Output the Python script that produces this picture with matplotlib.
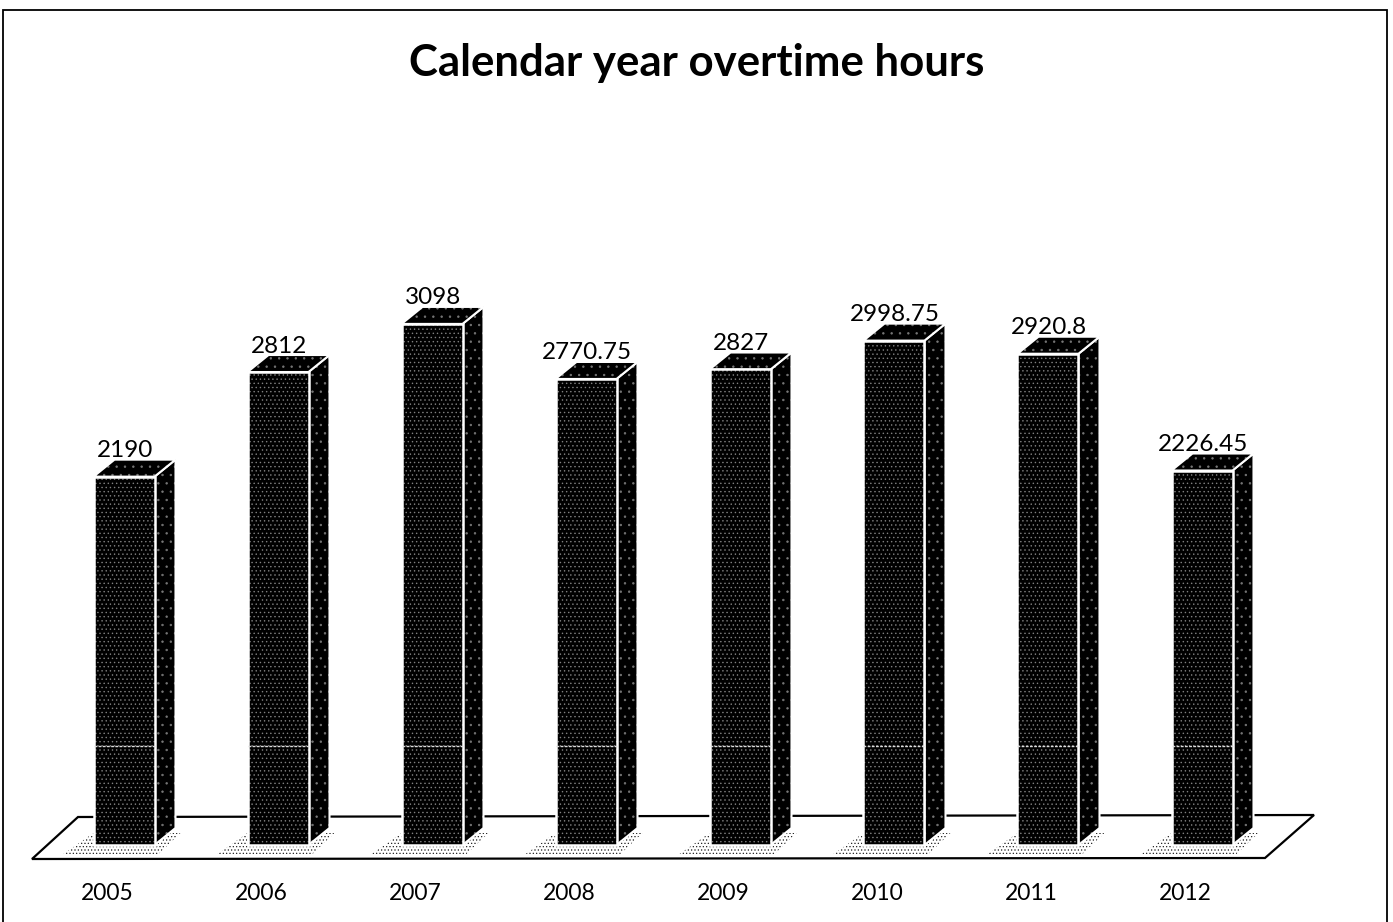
import matplotlib
matplotlib.use('Agg')
import matplotlib.pyplot as plt
from matplotlib.patches import Polygon, Rectangle

years = ['2005', '2006', '2007', '2008', '2009', '2010', '2011', '2012']
hours = [2190, 2812, 3098, 2770.75, 2827, 2998.75, 2920.8, 2226.45]
labels = ['2190', '2812', '3098', '2770.75', '2827', '2998.75', '2920.8', '2226.45']

W, H = 1393, 922
plt.rcParams['font.family'] = ['Lato', 'DejaVu Sans']
plt.rcParams['hatch.linewidth'] = 0.5

# scale: one category is 154 px, one hour is 0.1682 px, baseline sits at y=845
ppx = 154.0
ppy = 0.1682
x0 = 124.0
y0 = 845.0

fig = plt.figure(figsize=(W / 100, H / 100), dpi=100)
ax = fig.add_axes([0, 0, 1, 1])
ax.set_xlim(-x0 / ppx, (W - x0) / ppx)
ax.set_ylim((y0 - H) / ppy, y0 / ppy)
ax.axis('off')

bar_w = 61 / ppx
dx = 21 / ppx
dy = 17 / ppy

# floor
floor = Polygon([(-92 / ppx, -14 / ppy), (1141 / ppx, -13 / ppy),
                 (1190 / ppx, 30 / ppy), (-46 / ppx, 28 / ppy)],
                closed=True, facecolor='white', edgecolor='black', lw=1.6, zorder=1)
ax.add_patch(floor)

for i, v in enumerate(hours):
    left = i - bar_w / 2
    right = i + bar_w / 2

    # speckled shadow on the floor
    shadow = Polygon([(left - 30 / ppx, -9 / ppy), (right + 4 / ppx, -9 / ppy),
                      (right + 26 / ppx, 12 / ppy), (right, 12 / ppy),
                      (right, 0), (left, 0), (left, 12 / ppy)],
                     closed=True, facecolor='white', edgecolor='#222222', lw=0,
                     hatch='.....', zorder=2)
    ax.add_patch(shadow)

    # side face
    side = Polygon([(right, 0), (right + dx, dy), (right + dx, v + dy), (right, v)],
                   closed=True, facecolor='black', edgecolor='#777777', lw=0,
                   hatch='..', zorder=3)
    ax.add_patch(side)
    ax.add_patch(Polygon(side.get_xy(), closed=True, fill=False, edgecolor='white',
                         lw=1.5, zorder=3))
    # top face
    top = Polygon([(left, v), (left + dx, v + dy), (right + dx, v + dy), (right, v)],
                  closed=True, facecolor='black', edgecolor='#777777', lw=0,
                  hatch='..', zorder=3)
    ax.add_patch(top)
    ax.add_patch(Polygon(top.get_xy(), closed=True, fill=False, edgecolor='white',
                         lw=1.5, zorder=3))

    ax.text(i + 1 / ppx, v + 26 / ppy, labels[i], ha='center', va='center', fontsize=17.5,
            color='black', zorder=5)
    ax.text(i - 17 / ppx, -48 / ppy, years[i], ha='center', va='center', fontsize=16.5,
            color='black', zorder=5)

# front faces: dim speckle first, then a white outline on top
ax.bar(range(len(hours)), hours, width=bar_w, color='black', edgecolor='#808080',
       linewidth=0, hatch='....', zorder=4)
ax.bar(range(len(hours)), hours, width=bar_w, fill=False, edgecolor='white',
       linewidth=1.8, zorder=4)

# faint gridline that shows through the bars
for i in range(len(hours)):
    ax.plot([i - bar_w / 2, i + bar_w / 2], [590, 590], color='#dddddd', lw=1.0,
            ls=(0, (2, 1)), zorder=5)

# page frame, bottom edge falls off the sheet
frame = Rectangle((0.002, -0.02), 0.9935, 1.009, transform=ax.transAxes, fill=False,
                  edgecolor='black', lw=1.3, zorder=6)
ax.add_patch(frame)

ax.text(697 / W, 1 - 63 / H, 'Calendar year overtime hours', transform=ax.transAxes,
        ha='center', va='center', fontsize=31.5, fontweight='bold', color='black')

fig.savefig('out.png', dpi=100)
